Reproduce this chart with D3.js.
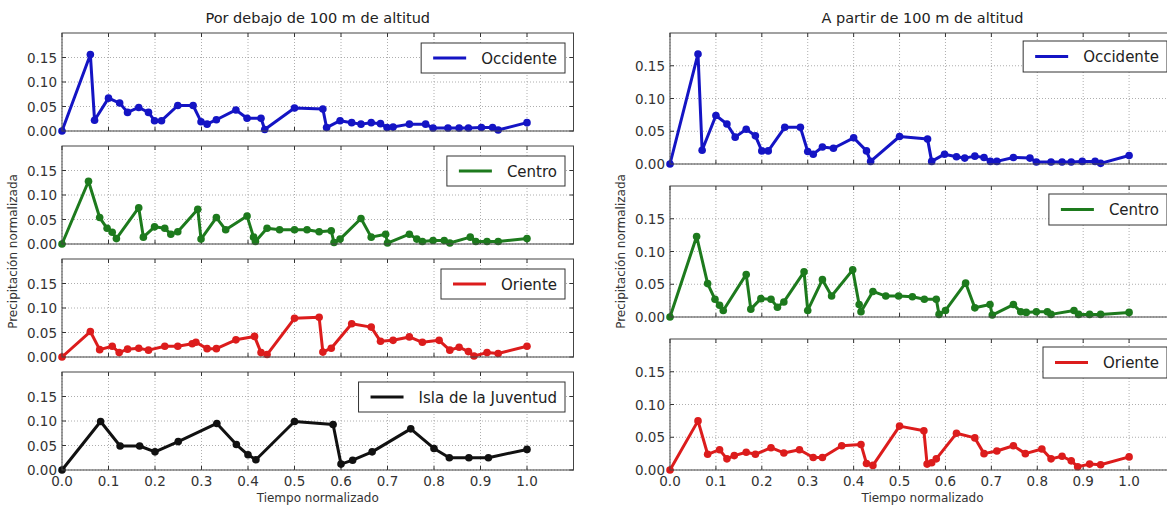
<!DOCTYPE html>
<html>
<head>
<meta charset="utf-8">
<script src="https://cdn.jsdelivr.net/npm/d3@7"></script>
<style>
  body { margin: 0; background: #fff; }
  svg { display: block; font-family: "DejaVu Sans", sans-serif; }
</style>
</head>
<body>
<svg id="chart" width="1167" height="508"></svg>
<script>
// below 100 m
var lowOccX = [0, 0.061, 0.070, 0.100, 0.124, 0.141, 0.165, 0.186, 0.199, 0.214, 0.249, 0.282, 0.299, 0.312, 0.332, 0.374, 0.398, 0.428, 0.436, 0.500, 0.561, 0.569, 0.598, 0.623, 0.643, 0.665, 0.685, 0.699, 0.712, 0.747, 0.782, 0.798, 0.830, 0.854, 0.874, 0.902, 0.926, 0.938, 1.0];
var lowOccY = [0, 0.156, 0.022, 0.067, 0.057, 0.038, 0.048, 0.038, 0.021, 0.021, 0.052, 0.052, 0.019, 0.014, 0.023, 0.043, 0.026, 0.026, 0.003, 0.047, 0.045, 0.007, 0.021, 0.017, 0.014, 0.017, 0.015, 0.007, 0.008, 0.014, 0.014, 0.006, 0.006, 0.006, 0.006, 0.007, 0.007, 0.002, 0.017];

var lowCenX = [0, 0.057, 0.081, 0.097, 0.108, 0.117, 0.165, 0.175, 0.199, 0.221, 0.234, 0.249, 0.292, 0.299, 0.332, 0.352, 0.398, 0.412, 0.416, 0.441, 0.468, 0.500, 0.527, 0.553, 0.579, 0.585, 0.598, 0.643, 0.665, 0.696, 0.700, 0.747, 0.763, 0.775, 0.798, 0.822, 0.834, 0.878, 0.890, 0.914, 0.938, 1.0];
var lowCenY = [0, 0.128, 0.054, 0.032, 0.024, 0.011, 0.074, 0.014, 0.035, 0.032, 0.020, 0.025, 0.071, 0.010, 0.054, 0.029, 0.057, 0.014, 0.005, 0.032, 0.029, 0.029, 0.029, 0.025, 0.027, 0.003, 0.010, 0.052, 0.014, 0.020, 0.002, 0.020, 0.010, 0.005, 0.007, 0.007, 0.002, 0.014, 0.005, 0.005, 0.005, 0.011];

var lowOriX = [0, 0.061, 0.081, 0.108, 0.123, 0.141, 0.165, 0.186, 0.221, 0.249, 0.280, 0.288, 0.312, 0.332, 0.374, 0.414, 0.428, 0.441, 0.500, 0.553, 0.561, 0.579, 0.623, 0.665, 0.685, 0.712, 0.747, 0.775, 0.811, 0.834, 0.854, 0.874, 0.886, 0.914, 0.938, 1.0];
var lowOriY = [0, 0.052, 0.015, 0.022, 0.009, 0.016, 0.018, 0.014, 0.022, 0.022, 0.027, 0.030, 0.017, 0.017, 0.035, 0.042, 0.009, 0.005, 0.079, 0.081, 0.010, 0.018, 0.068, 0.061, 0.032, 0.034, 0.041, 0.030, 0.034, 0.014, 0.020, 0.011, 0.002, 0.009, 0.007, 0.022];

var lowIslX = [0, 0.083, 0.125, 0.167, 0.200, 0.250, 0.333, 0.375, 0.400, 0.417, 0.500, 0.583, 0.600, 0.625, 0.667, 0.750, 0.800, 0.833, 0.875, 0.917, 1.0];
var lowIslY = [0, 0.099, 0.049, 0.049, 0.037, 0.058, 0.095, 0.052, 0.031, 0.021, 0.099, 0.093, 0.012, 0.020, 0.037, 0.084, 0.044, 0.025, 0.025, 0.025, 0.042];

// from 100 m up
var highOccX = [0, 0.061, 0.070, 0.100, 0.124, 0.142, 0.166, 0.186, 0.200, 0.214, 0.250, 0.284, 0.300, 0.312, 0.332, 0.356, 0.400, 0.428, 0.437, 0.500, 0.561, 0.570, 0.598, 0.624, 0.642, 0.664, 0.684, 0.698, 0.712, 0.748, 0.784, 0.798, 0.830, 0.854, 0.874, 0.898, 0.926, 0.938, 1.0];
var highOccY = [0, 0.168, 0.021, 0.074, 0.061, 0.041, 0.053, 0.043, 0.020, 0.020, 0.056, 0.056, 0.019, 0.015, 0.026, 0.024, 0.040, 0.020, 0.004, 0.042, 0.038, 0.004, 0.015, 0.011, 0.009, 0.012, 0.010, 0.004, 0.004, 0.010, 0.009, 0.003, 0.003, 0.003, 0.003, 0.004, 0.004, 0.001, 0.013];

var highCenX = [0, 0.058, 0.082, 0.098, 0.108, 0.116, 0.166, 0.176, 0.198, 0.220, 0.234, 0.248, 0.292, 0.300, 0.332, 0.352, 0.398, 0.412, 0.416, 0.442, 0.470, 0.498, 0.528, 0.554, 0.580, 0.586, 0.600, 0.644, 0.664, 0.697, 0.702, 0.748, 0.764, 0.776, 0.798, 0.822, 0.830, 0.880, 0.890, 0.914, 0.938, 1.0];
var highCenY = [0, 0.123, 0.051, 0.027, 0.018, 0.010, 0.065, 0.012, 0.028, 0.027, 0.015, 0.023, 0.069, 0.010, 0.057, 0.032, 0.072, 0.019, 0.008, 0.039, 0.032, 0.032, 0.031, 0.027, 0.027, 0.004, 0.010, 0.052, 0.014, 0.019, 0.003, 0.019, 0.008, 0.007, 0.008, 0.008, 0.004, 0.010, 0.004, 0.004, 0.004, 0.007];

var highOriX = [0, 0.061, 0.082, 0.108, 0.124, 0.140, 0.166, 0.186, 0.220, 0.248, 0.282, 0.312, 0.332, 0.374, 0.416, 0.428, 0.442, 0.500, 0.553, 0.560, 0.570, 0.580, 0.624, 0.664, 0.684, 0.712, 0.748, 0.774, 0.810, 0.830, 0.854, 0.874, 0.888, 0.914, 0.938, 1.0];
var highOriY = [0, 0.075, 0.024, 0.031, 0.017, 0.022, 0.027, 0.024, 0.034, 0.026, 0.031, 0.019, 0.019, 0.037, 0.039, 0.010, 0.007, 0.067, 0.060, 0.009, 0.011, 0.017, 0.056, 0.049, 0.025, 0.029, 0.037, 0.025, 0.032, 0.017, 0.021, 0.014, 0.005, 0.009, 0.008, 0.020];

var xTicks = [0, 0.1, 0.2, 0.3, 0.4, 0.5, 0.6, 0.7, 0.8, 0.9, 1.0];
var yTicks = [0, 0.05, 0.10, 0.15];
var titles = ["Por debajo de 100 m de altitud", "A partir de 100 m de altitud"];
var yLabel = "Precipitación normalizada";
var xLabel = "Tiempo normalizado";

var colors = { occ: "#1414c4", cen: "#1d7a1d", ori: "#dc1c1c", isl: "#111111" };

var columns = [
  {
    left: 62, right: 573.5, tops: [33, 146, 259, 372], h: 98, legTop: 10, legH: 30, legRight: 565, title: titles[0],
    series: [
      { x: lowOccX, y: lowOccY, c: colors.occ, name: "Occidente" },
      { x: lowCenX, y: lowCenY, c: colors.cen, name: "Centro" },
      { x: lowOriX, y: lowOriY, c: colors.ori, name: "Oriente" },
      { x: lowIslX, y: lowIslY, c: colors.isl, name: "Isla de la Juventud" }
    ]
  },
  {
    left: 670, right: 1175, tops: [33, 186, 339], h: 131, legTop: 8, legH: 31, legRight: 1167, title: titles[1],
    series: [
      { x: highOccX, y: highOccY, c: colors.occ, name: "Occidente" },
      { x: highCenX, y: highCenY, c: colors.cen, name: "Centro" },
      { x: highOriX, y: highOriY, c: colors.ori, name: "Oriente" }
    ]
  }
];

var svg = d3.select("#chart");

columns.forEach(function (col) {
  var x = d3.scaleLinear().domain([0, 1.1]).range([col.left, col.right]);
  var n = col.series.length;

  svg.append("text")
    .attr("x", (col.left + col.right) / 2).attr("y", 23)
    .attr("text-anchor", "middle").attr("font-size", 14.5).attr("fill", "#222")
    .text(col.title);

  col.series.forEach(function (s, i) {
    var top = col.tops[i], bottom = top + col.h;
    var y = d3.scaleLinear().domain([0, 0.2]).range([bottom, top]);
    var g = svg.append("g");

    // grid
    g.selectAll("line.gx").data(xTicks).enter().append("line")
      .attr("x1", d => x(d)).attr("x2", d => x(d)).attr("y1", top).attr("y2", bottom)
      .attr("stroke", "#999").attr("stroke-width", 0.8).attr("stroke-dasharray", "1,2");
    g.selectAll("line.gy").data(yTicks).enter().append("line")
      .attr("x1", col.left).attr("x2", col.right).attr("y1", d => y(d)).attr("y2", d => y(d))
      .attr("stroke", "#999").attr("stroke-width", 0.8).attr("stroke-dasharray", "1,2");

    // inward ticks on all sides
    g.selectAll("line.tx").data(xTicks).enter().append("line")
      .attr("x1", d => x(d)).attr("x2", d => x(d)).attr("y1", bottom).attr("y2", bottom - 4)
      .attr("stroke", "#333");
    g.selectAll("line.tx2").data(xTicks).enter().append("line")
      .attr("x1", d => x(d)).attr("x2", d => x(d)).attr("y1", top).attr("y2", top + 4)
      .attr("stroke", "#333");
    g.selectAll("line.ty").data(yTicks).enter().append("line")
      .attr("x1", col.left).attr("x2", col.left + 4).attr("y1", d => y(d)).attr("y2", d => y(d))
      .attr("stroke", "#333");
    g.selectAll("line.ty2").data(yTicks).enter().append("line")
      .attr("x1", col.right).attr("x2", col.right - 4).attr("y1", d => y(d)).attr("y2", d => y(d))
      .attr("stroke", "#333");

    g.selectAll("text.yl").data(yTicks).enter().append("text")
      .attr("x", col.left - 5).attr("y", d => y(d) + 5)
      .attr("text-anchor", "end").attr("font-size", 13.5).attr("fill", "#333")
      .text(d => d3.format(".2f")(d));

    if (i == n - 1) {
      g.selectAll("text.xl").data(xTicks).enter().append("text")
        .attr("x", d => x(d)).attr("y", bottom + 16)
        .attr("text-anchor", "middle").attr("font-size", 13.5).attr("fill", "#333")
        .text(d => d3.format(".1f")(d));
      svg.append("text")
        .attr("x", (col.left + col.right) / 2).attr("y", bottom + 32)
        .attr("text-anchor", "middle").attr("font-size", 12).attr("fill", "#333")
        .text(xLabel);
    }

    var pts = s.x.map((v, k) => [v, s.y[k]]);
    g.append("path")
      .attr("d", d3.line().x(d => x(d[0])).y(d => y(d[1]))(pts))
      .attr("fill", "none").attr("stroke", s.c).attr("stroke-width", 3)
      .attr("stroke-linejoin", "round");
    g.selectAll("circle").data(pts).enter().append("circle")
      .attr("cx", d => x(d[0])).attr("cy", d => y(d[1])).attr("r", 3.8)
      .attr("fill", s.c);

    // frame
    g.append("rect")
      .attr("x", col.left).attr("y", top).attr("width", col.right - col.left).attr("height", col.h)
      .attr("fill", "none").attr("stroke", "#444").attr("stroke-width", 1);

    // legend
    var lg = g.append("g");
    var box = lg.append("rect");
    var txt = lg.append("text").attr("font-size", 15).attr("fill", "#222").text(s.name);
    var tw = txt.node().getComputedTextLength();
    var bw = 12 + 33 + 15 + tw + 8;
    var bx = col.legRight - bw, by = top + col.legTop;
    box.attr("x", bx).attr("y", by).attr("width", bw).attr("height", col.legH)
      .attr("fill", "#fff").attr("stroke", "#333").attr("stroke-width", 1);
    lg.append("line")
      .attr("x1", bx + 12).attr("x2", bx + 45).attr("y1", by + col.legH / 2).attr("y2", by + col.legH / 2)
      .attr("stroke", s.c).attr("stroke-width", 3.2);
    txt.attr("x", bx + 60).attr("y", by + col.legH / 2 + 5.5);
  });

  var midY = (col.tops[0] + col.tops[n - 1] + col.h) / 2;
  var lx = col.left - 45;
  svg.append("text")
    .attr("transform", "translate(" + lx + "," + midY + ") rotate(-90)")
    .attr("text-anchor", "middle").attr("font-size", 12).attr("fill", "#333")
    .text(yLabel);
});
</script>
</body>
</html>
